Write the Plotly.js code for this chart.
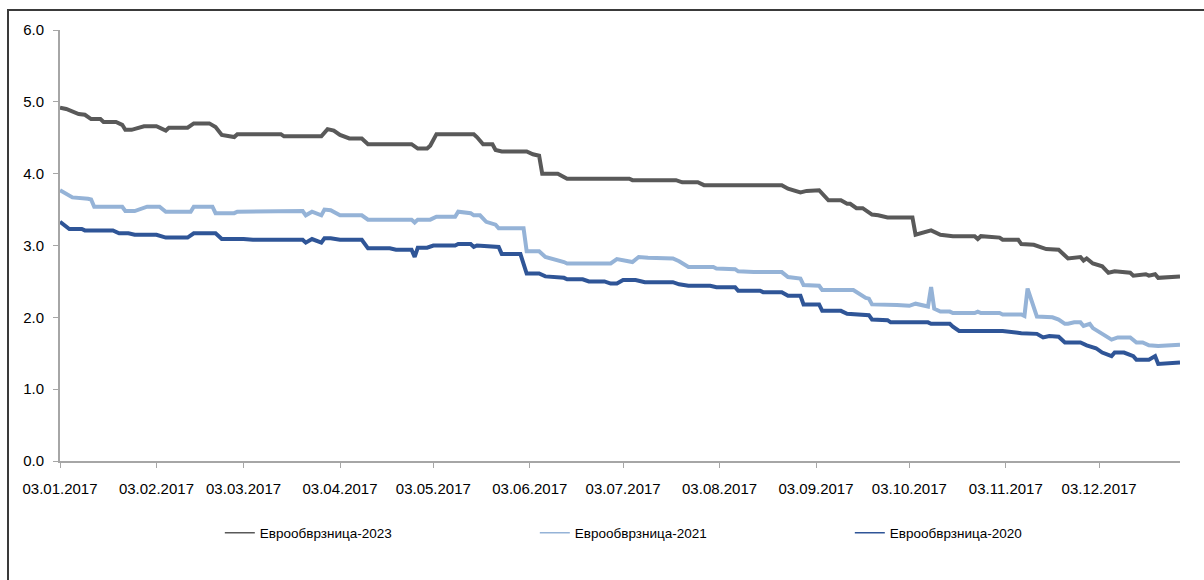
<!DOCTYPE html>
<html>
<head>
<meta charset="utf-8">
<script src="https://cdn.plot.ly/plotly-3.0.1.min.js"></script>
<style>
html,body{margin:0;padding:0;background:#fff;}
#wrap{position:relative;width:1204px;height:580px;overflow:hidden;}
#chart{position:absolute;left:0;top:0;width:1204px;height:580px;}
#frame{position:absolute;left:7px;top:9px;width:1300px;height:700px;border-left:2px solid #3a3a3a;border-top:2px solid #3a3a3a;pointer-events:none;}
</style>
</head>
<body>
<div id="wrap"><div id="chart"></div><div id="frame"></div></div>
<script>
var seriesNames = ['Еврообврзница-2023', 'Еврообврзница-2021', 'Еврообврзница-2020'];

var tickDates = ['2017-01-03','2017-02-03','2017-03-03','2017-04-03','2017-05-03','2017-06-03','2017-07-03','2017-08-03','2017-09-03','2017-10-03','2017-11-03','2017-12-03'];
var tickLabels = ['03.01.2017','03.02.2017','03.03.2017','03.04.2017','03.05.2017','03.06.2017','03.07.2017','03.08.2017','03.09.2017','03.10.2017','03.11.2017','03.12.2017'];

var dates2023 = ['2017-01-03','2017-01-05','2017-01-09','2017-01-11','2017-01-13','2017-01-16','2017-01-17','2017-01-21','2017-01-23','2017-01-24','2017-01-26','2017-01-30','2017-02-03','2017-02-06','2017-02-07','2017-02-13','2017-02-15','2017-02-20','2017-02-22','2017-02-24','2017-02-28','2017-03-01','2017-03-15','2017-03-16','2017-03-28','2017-03-30','2017-04-01','2017-04-03','2017-04-06','2017-04-10','2017-04-12','2017-04-26','2017-04-28','2017-05-01','2017-05-02','2017-05-04','2017-05-16','2017-05-17','2017-05-19','2017-05-22','2017-05-23','2017-05-25','2017-06-02','2017-06-04','2017-06-06','2017-06-07','2017-06-12','2017-06-14','2017-06-15','2017-07-05','2017-07-06','2017-07-20','2017-07-22','2017-07-27','2017-07-29','2017-08-23','2017-08-25','2017-08-29','2017-08-31','2017-09-04','2017-09-07','2017-09-11','2017-09-13','2017-09-14','2017-09-16','2017-09-18','2017-09-21','2017-09-23','2017-09-26','2017-10-04','2017-10-05','2017-10-10','2017-10-13','2017-10-17','2017-10-24','2017-10-25','2017-10-26','2017-11-01','2017-11-02','2017-11-07','2017-11-08','2017-11-12','2017-11-16','2017-11-20','2017-11-23','2017-11-27','2017-11-28','2017-11-29','2017-12-01','2017-12-04','2017-12-06','2017-12-08','2017-12-13','2017-12-14','2017-12-18','2017-12-19','2017-12-21','2017-12-22','2017-12-29'];
var values2023 = [4.92,4.90,4.83,4.82,4.76,4.76,4.72,4.72,4.68,4.61,4.61,4.66,4.66,4.60,4.64,4.64,4.70,4.70,4.65,4.54,4.51,4.55,4.55,4.52,4.52,4.62,4.60,4.54,4.49,4.49,4.41,4.41,4.35,4.35,4.39,4.55,4.55,4.51,4.41,4.41,4.33,4.31,4.31,4.27,4.25,4.00,4.00,3.95,3.93,3.93,3.91,3.91,3.88,3.88,3.84,3.84,3.79,3.74,3.76,3.77,3.63,3.63,3.58,3.58,3.52,3.52,3.43,3.42,3.39,3.39,3.15,3.21,3.15,3.13,3.13,3.09,3.13,3.11,3.08,3.08,3.02,3.01,2.95,2.94,2.82,2.84,2.79,2.82,2.75,2.71,2.62,2.64,2.62,2.58,2.60,2.58,2.60,2.55,2.57];

var dates2021 = ['2017-01-03','2017-01-05','2017-01-07','2017-01-12','2017-01-13','2017-01-14','2017-01-23','2017-01-24','2017-01-27','2017-01-31','2017-02-04','2017-02-06','2017-02-14','2017-02-15','2017-02-21','2017-02-22','2017-02-28','2017-03-01','2017-03-08','2017-03-09','2017-03-22','2017-03-23','2017-03-25','2017-03-28','2017-03-29','2017-03-31','2017-04-03','2017-04-10','2017-04-12','2017-04-26','2017-04-27','2017-04-28','2017-05-02','2017-05-04','2017-05-10','2017-05-11','2017-05-15','2017-05-16','2017-05-18','2017-05-20','2017-05-23','2017-05-24','2017-06-01','2017-06-02','2017-06-06','2017-06-08','2017-06-10','2017-06-14','2017-06-15','2017-06-29','2017-07-01','2017-07-06','2017-07-08','2017-07-11','2017-07-19','2017-07-21','2017-07-24','2017-08-01','2017-08-02','2017-08-08','2017-08-09','2017-08-14','2017-08-23','2017-08-25','2017-08-29','2017-08-30','2017-09-04','2017-09-05','2017-09-15','2017-09-19','2017-09-20','2017-09-21','2017-09-29','2017-10-03','2017-10-05','2017-10-09','2017-10-10','2017-10-11','2017-10-13','2017-10-16','2017-10-17','2017-10-24','2017-10-25','2017-10-26','2017-11-01','2017-11-02','2017-11-08','2017-11-09','2017-11-10','2017-11-13','2017-11-18','2017-11-20','2017-11-22','2017-11-23','2017-11-25','2017-11-27','2017-11-28','2017-11-30','2017-12-01','2017-12-03','2017-12-07','2017-12-09','2017-12-13','2017-12-15','2017-12-17','2017-12-19','2017-12-22','2017-12-29'];
var values2021 = [3.77,3.72,3.67,3.65,3.64,3.54,3.54,3.48,3.48,3.54,3.54,3.47,3.47,3.54,3.54,3.45,3.45,3.47,3.47,3.48,3.48,3.42,3.47,3.42,3.50,3.49,3.42,3.42,3.36,3.36,3.32,3.36,3.36,3.40,3.40,3.47,3.45,3.42,3.42,3.33,3.29,3.24,3.24,2.92,2.92,2.84,2.82,2.77,2.75,2.75,2.81,2.77,2.84,2.83,2.82,2.78,2.70,2.70,2.68,2.67,2.64,2.63,2.63,2.56,2.54,2.45,2.44,2.38,2.38,2.27,2.26,2.18,2.17,2.16,2.19,2.15,2.42,2.12,2.08,2.08,2.06,2.06,2.08,2.06,2.06,2.04,2.04,2.02,2.40,2.01,2.00,1.97,1.91,1.91,1.93,1.93,1.88,1.91,1.85,1.80,1.69,1.72,1.72,1.65,1.65,1.61,1.60,1.62];

var dates2020 = ['2017-01-03','2017-01-04','2017-01-06','2017-01-10','2017-01-11','2017-01-20','2017-01-22','2017-01-25','2017-01-27','2017-02-03','2017-02-06','2017-02-13','2017-02-15','2017-02-22','2017-02-24','2017-03-03','2017-03-06','2017-03-22','2017-03-23','2017-03-25','2017-03-28','2017-03-29','2017-03-31','2017-04-03','2017-04-10','2017-04-12','2017-04-19','2017-04-21','2017-04-26','2017-04-27','2017-04-28','2017-05-01','2017-05-03','2017-05-10','2017-05-11','2017-05-15','2017-05-16','2017-05-17','2017-05-24','2017-05-25','2017-05-31','2017-06-02','2017-06-06','2017-06-08','2017-06-14','2017-06-15','2017-06-20','2017-06-22','2017-06-27','2017-06-29','2017-07-01','2017-07-03','2017-07-07','2017-07-10','2017-07-19','2017-07-21','2017-07-24','2017-07-31','2017-08-02','2017-08-08','2017-08-09','2017-08-16','2017-08-17','2017-08-23','2017-08-25','2017-08-29','2017-08-30','2017-09-04','2017-09-05','2017-09-11','2017-09-13','2017-09-20','2017-09-21','2017-09-26','2017-09-27','2017-10-09','2017-10-10','2017-10-16','2017-10-17','2017-10-19','2017-11-02','2017-11-08','2017-11-13','2017-11-15','2017-11-17','2017-11-20','2017-11-22','2017-11-27','2017-11-29','2017-12-02','2017-12-04','2017-12-07','2017-12-08','2017-12-11','2017-12-14','2017-12-15','2017-12-19','2017-12-21','2017-12-22','2017-12-29'];
var values2020 = [3.33,3.30,3.23,3.23,3.21,3.21,3.17,3.17,3.15,3.15,3.11,3.11,3.17,3.17,3.09,3.09,3.08,3.08,3.04,3.09,3.04,3.10,3.10,3.08,3.08,2.96,2.96,2.94,2.94,2.84,2.97,2.97,3.00,3.00,3.02,3.02,2.98,3.00,2.98,2.88,2.88,2.61,2.61,2.57,2.55,2.53,2.53,2.50,2.50,2.47,2.47,2.52,2.52,2.49,2.49,2.46,2.44,2.44,2.42,2.42,2.37,2.37,2.35,2.35,2.30,2.30,2.18,2.18,2.09,2.09,2.05,2.03,1.97,1.96,1.93,1.93,1.91,1.91,1.87,1.81,1.81,1.78,1.77,1.72,1.74,1.73,1.65,1.65,1.61,1.57,1.51,1.46,1.51,1.51,1.46,1.41,1.41,1.46,1.35,1.37];

var colors = ['#595959', '#95b3d7', '#2f5597'];
var allDates = [dates2023, dates2021, dates2020];
var allValues = [values2023, values2021, values2020];

var traces = [];
for (var i = 0; i < 3; i++) {
  traces.push({
    x: allDates[i], y: allValues[i], type: 'scatter', mode: 'lines',
    name: seriesNames[i], showlegend: false, hoverinfo: 'skip',
    line: {color: colors[i], width: 4}
  });
}
for (var j = 0; j < 3; j++) {
  traces.push({
    x: [null], y: [null], type: 'scatter', mode: 'lines',
    name: seriesNames[j], showlegend: true,
    line: {color: colors[j], width: 1.5}
  });
}

var tickFont = {family: '"Liberation Sans Narrow", "Liberation Sans", Arial, sans-serif', size: 15, color: '#000'};

var layout = {
  width: 1204, height: 580,
  margin: {l: 60, r: 24, t: 30, b: 119},
  paper_bgcolor: '#ffffff', plot_bgcolor: '#ffffff',
  showlegend: true,
  xaxis: {
    type: 'date', range: ['2017-01-03', '2017-12-29'],
    tickmode: 'array', tickvals: tickDates, ticktext: tickLabels,
    showgrid: false, zeroline: false,
    showline: true, linecolor: '#a6a6a6', linewidth: 2,
    ticks: 'outside', ticklen: 5, tickwidth: 1, tickcolor: '#a6a6a6',
    tickfont: tickFont, ticklabelstandoff: 8
  },
  yaxis: {
    range: [0, 6], dtick: 1, tick0: 0, tickformat: '.1f',
    showgrid: false, zeroline: false,
    showline: true, linecolor: '#a6a6a6', linewidth: 2,
    ticks: 'outside', ticklen: 5, tickwidth: 1, tickcolor: '#a6a6a6',
    tickfont: tickFont, ticklabelstandoff: 6
  },
  legend: {
    orientation: 'h', x: 0.1427, xanchor: 'left', y: -0.167, yanchor: 'middle',
    font: {family: '"Liberation Sans Narrow", "Liberation Sans", Arial, sans-serif', size: 13.5, color: '#000'},
    entrywidth: 270, entrywidthmode: 'pixels', itemwidth: 30,
    bgcolor: 'rgba(0,0,0,0)'
  }
};

Plotly.newPlot('chart', traces, layout, {displayModeBar: false, staticPlot: true});
</script>
</body>
</html>
